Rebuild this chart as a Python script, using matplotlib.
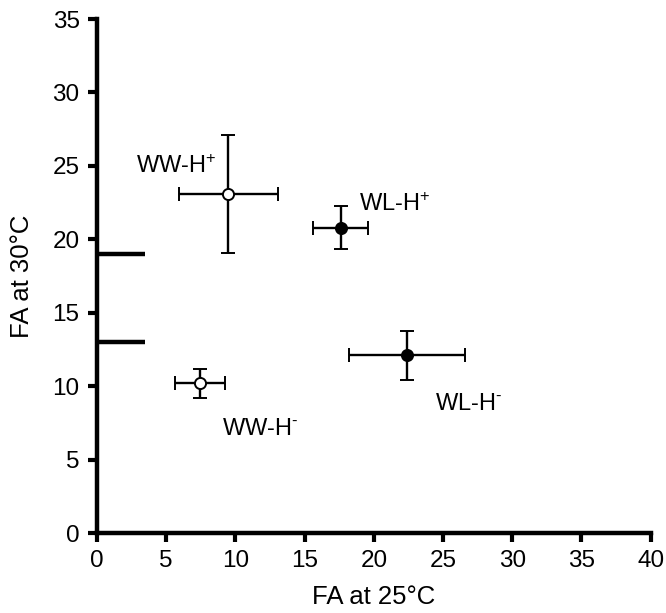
import matplotlib.pyplot as plt

plt.rcParams['font.family'] = ['Liberation Sans', 'DejaVu Sans']
plt.rcParams['mathtext.fontset'] = 'custom'
plt.rcParams['mathtext.rm'] = 'Liberation Sans'
plt.rcParams['mathtext.it'] = 'Liberation Sans'

# datos: media y error de cada grupo
grupos = ['WW-H$^{+}$', 'WL-H$^{+}$', 'WL-H$^{\\text{-}}$', 'WW-H$^{\\text{-}}$']
fa_25 = [9.5, 17.6, 22.4, 7.45]
fa_25_err = [3.55, 2.0, 4.2, 1.8]
fa_30 = [23.1, 20.8, 12.1, 10.2]
fa_30_err = [4.0, 1.45, 1.65, 1.0]
relleno = ['white', 'black', 'black', 'white']

# posiciones de las etiquetas (x, y de la línea base)
etiq_x = [2.85, 18.9, 24.4, 9.05]
etiq_y = [24.5, 21.9, 8.35, 6.7]

# marcas horizontales sobre el eje y
marcas_y = [19.0, 13.0]

fig = plt.figure(figsize=(6.66, 6.13), dpi=100)
ax = fig.add_axes([0.1456, 0.1305, 0.8314, 0.8385])

for i in range(len(grupos)):
    ax.errorbar(fa_25[i], fa_30[i], xerr=fa_25_err[i], yerr=fa_30_err[i],
                fmt='o', color='black', mfc=relleno[i], mec='black', ms=8,
                mew=1.4, elinewidth=1.7, capsize=5, capthick=1.7, zorder=3)
    ax.text(etiq_x[i], etiq_y[i], grupos[i], fontsize=17, va='baseline')

for y in marcas_y:
    ax.plot([0, 3.5], [y, y], color='black', lw=3.2, solid_capstyle='butt',
            clip_on=False)

ax.set_xlim(0, 40)
ax.set_ylim(0, 35)
ax.set_xticks(range(0, 41, 5))
ax.set_yticks(range(0, 36, 5))
ax.spines['top'].set_visible(False)
ax.spines['right'].set_visible(False)
ax.spines['left'].set_linewidth(3.2)
ax.spines['bottom'].set_linewidth(3.2)
ax.tick_params(direction='out', length=6.5, width=3, labelsize=17.5, pad=6)

ax.set_xlabel('FA at 25°C', fontsize=18.5, labelpad=9)
ax.set_ylabel('FA at 30°C', fontsize=18.5, labelpad=13)

fig.savefig('out.png', dpi=100)
